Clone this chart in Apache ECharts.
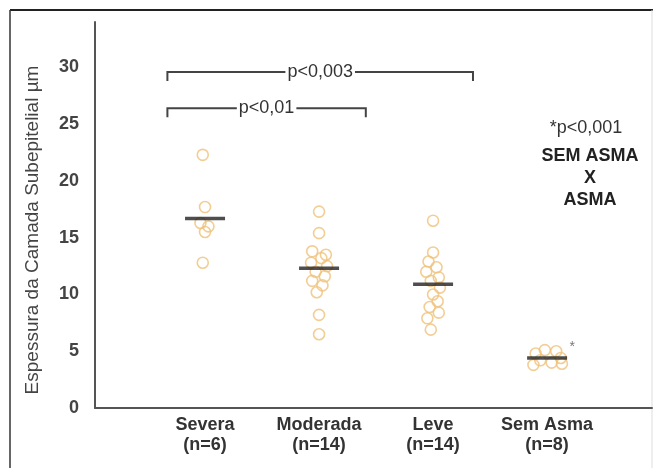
<!DOCTYPE html>
<html>
<head>
<meta charset="utf-8">
<script src="https://cdn.jsdelivr.net/npm/echarts@6/dist/echarts.min.js"></script>
<style>
html,body{margin:0;padding:0;background:#fff;}
#chart{width:654px;height:468px;}
</style>
</head>
<body>
<div id="chart"></div>
<script>
// ---- data ----
const categories = ['Severa', 'Moderada', 'Leve', 'Sem Asma'];
const groupN = ['(n=6)', '(n=14)', '(n=14)', '(n=8)'];
const severaValues   = [22.3, 17.7, 16.3, 16.0, 15.5, 12.8];
const severaJitter   = [-0.02, 0.0, -0.04, 0.03, 0.0, -0.02];
const moderadaValues = [17.3, 15.4, 13.8, 13.5, 13.2, 12.8, 12.5, 12.0, 11.6, 11.2, 10.8, 10.2, 8.2, 6.5];
const moderadaJitter = [0.0, 0.0, -0.06, 0.06, 0.02, -0.07, 0.07, -0.03, 0.05, -0.06, 0.03, -0.02, 0.0, 0.0];
const leveValues     = [16.5, 13.7, 12.9, 12.4, 12.0, 11.5, 11.2, 10.6, 10.0, 9.4, 8.9, 8.4, 7.9, 6.9];
const leveJitter     = [0.0, 0.0, -0.04, 0.03, -0.06, 0.05, -0.02, 0.06, 0.0, 0.04, -0.03, 0.05, -0.05, -0.02];
const semAsmaValues  = [5.1, 5.0, 4.8, 4.4, 4.2, 4.0, 3.9, 3.8];
const semAsmaJitter  = [-0.02, 0.08, -0.1, 0.12, -0.06, 0.04, 0.13, -0.12];
const groupMeans     = [16.7, 12.3, 10.9, 4.4];
const yTicks         = [0, 5, 10, 15, 20, 25, 30];
const brackets = [
  {from: 0.67, to: 3.35, y: 29.6, label: 'p<0,003'},
  {from: 0.67, to: 2.41, y: 26.4, label: 'p<0,01'}
];
const starPoint = [4.22, 5.4];

const groups = [
  [severaValues, severaJitter],
  [moderadaValues, moderadaJitter],
  [leveValues, leveJitter],
  [semAsmaValues, semAsmaJitter]
];
const pointData = [];
groups.forEach((g, gi) => {
  g[0].forEach((v, i) => pointData.push([gi + 1 + g[1][i], v]));
});
const meanData = groupMeans.map((m, i) => [i + 1, m]);

const chart = echarts.init(document.getElementById('chart'), null, {renderer: 'canvas'});
const FONT = 'Liberation Sans, Arial, sans-serif';

const option = {
  animation: false,
  backgroundColor: '#fff',
  grid: {left: 95, right: 2, top: 22, bottom: 60, containLabel: false},
  xAxis: {
    type: 'value', min: 0.035, max: 4.92,
    splitLine: {show: false},
    axisLine: {show: true, lineStyle: {color: '#555', width: 2}},
    axisTick: {show: false},
    axisLabel: {
      customValues: [1, 2, 3, 4],
      margin: 7,
      formatter: v => '{a|' + categories[v - 1] + '}\n{a|' + groupN[v - 1] + '}',
      rich: {a: {fontFamily: FONT, fontWeight: 'bold', fontSize: 18, color: '#333', lineHeight: 20, align: 'center'}}
    }
  },
  yAxis: {
    type: 'value', min: 0, max: 34, interval: 5,
    splitLine: {show: false},
    axisLine: {show: true, onZero: false, lineStyle: {color: '#555', width: 2}},
    axisTick: {show: false},
    axisLabel: {
      customValues: yTicks,
      margin: 16,
      fontFamily: FONT, fontWeight: 'bold', fontSize: 18, color: '#444'
    }
  },
  series: [
    {
      type: 'scatter',
      data: pointData,
      symbol: 'circle',
      symbolSize: 11,
      itemStyle: {color: 'rgba(255,255,255,0)', borderColor: '#efc27a', borderWidth: 1.6},
      z: 2
    },
    {
      type: 'scatter',
      data: meanData,
      symbol: 'rect',
      symbolSize: [40, 3.5],
      itemStyle: {color: '#222'},
      z: 3
    },
    {
      type: 'scatter',
      data: [starPoint],
      symbolSize: 0,
      label: {show: true, position: 'inside', formatter: '*', fontSize: 14, color: '#555', fontFamily: FONT},
      z: 4
    }
  ]
};
chart.setOption(option);

function buildGraphics() {
  const els = [];
  // frame
  els.push({type: 'line', shape: {x1: 10, y1: 10, x2: 653, y2: 10}, style: {stroke: '#222', lineWidth: 2}, silent: true});
  els.push({type: 'line', shape: {x1: 10, y1: 10, x2: 10, y2: 468}, style: {stroke: '#333', lineWidth: 1.5}, silent: true});
  els.push({type: 'line', shape: {x1: 652, y1: 10, x2: 652, y2: 468}, style: {stroke: '#ddd', lineWidth: 1}, silent: true});
  // brackets
  brackets.forEach(b => {
    const p1 = chart.convertToPixel({gridIndex: 0}, [b.from, b.y]);
    const p2 = chart.convertToPixel({gridIndex: 0}, [b.to, b.y]);
    const drop = 9;
    els.push({type: 'polyline', shape: {points: [[p1[0], p1[1] + drop], [p1[0], p1[1]], [p2[0], p2[1]], [p2[0], p2[1] + drop]]},
      style: {stroke: '#444', lineWidth: 2, fill: null}, z: 5, silent: true});
    els.push({type: 'text', x: (p1[0] + p2[0]) / 2, y: p1[1],
      style: {text: b.label, font: '18px ' + FONT, fill: '#333', align: 'center', verticalAlign: 'middle',
        backgroundColor: '#fff', padding: [0, 2]}, z: 6, silent: true});
  });
  // right-hand annotation
  els.push({type: 'text', x: 586, y: 128, style: {text: '*p<0,001', font: '18px ' + FONT, fill: '#333', align: 'center', verticalAlign: 'middle'}});
  els.push({type: 'text', x: 590, y: 156, style: {text: 'SEM ASMA', font: 'bold 18px ' + FONT, fill: '#222', align: 'center', verticalAlign: 'middle'}});
  els.push({type: 'text', x: 590, y: 178, style: {text: 'X', font: 'bold 18px ' + FONT, fill: '#222', align: 'center', verticalAlign: 'middle'}});
  els.push({type: 'text', x: 590, y: 200, style: {text: 'ASMA', font: 'bold 18px ' + FONT, fill: '#222', align: 'center', verticalAlign: 'middle'}});
  // y axis name
  els.push({type: 'text', x: 33, y: 230, rotation: Math.PI / 2,
    style: {text: 'Espessura da Camada Subepitelial µm', font: '19px ' + FONT, fill: '#444', align: 'center', verticalAlign: 'middle'}});
  return els;
}
chart.setOption({graphic: {elements: buildGraphics()}});
</script>
</body>
</html>
